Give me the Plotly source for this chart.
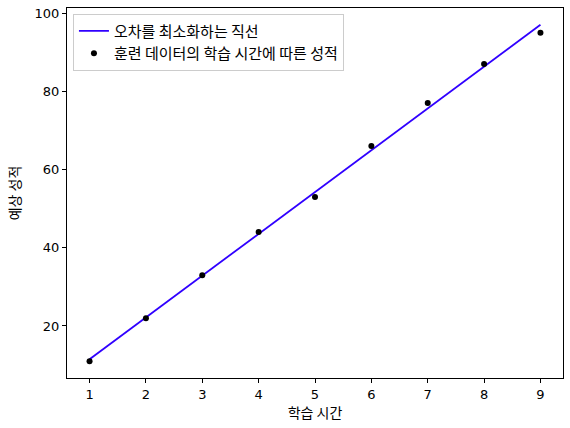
import plotly.graph_objects as go

hours = [1, 2, 3, 4, 5, 6, 7, 8, 9]
scores = [11, 22, 33, 44, 53, 66, 77, 87, 95]
predicted = [11.5, 22.2, 32.9, 43.5, 54.2, 64.9, 75.6, 86.3, 97.0]
x_ticks = [1, 2, 3, 4, 5, 6, 7, 8, 9]
y_ticks = [20, 40, 60, 80, 100]

FONT = "Noto Sans CJK KR, DejaVu Sans, sans-serif"
TICKFONT = "DejaVu Sans, Noto Sans CJK KR, sans-serif"

fig = go.Figure()
fig.add_trace(go.Scatter(
    x=hours, y=predicted, mode="lines", name="오차를 최소화하는 직선",
    line=dict(color="#3000ff", width=1.8),
))
fig.add_trace(go.Scatter(
    x=hours, y=scores, mode="markers", name="훈련 데이터의 학습 시간에 따른 성적",
    marker=dict(color="black", size=6),
))

axis_common = dict(
    showgrid=False, zeroline=False, showline=True, linecolor="black", linewidth=1,
    mirror=True, ticks="outside", ticklen=4, tickcolor="black", automargin=False,
    tickfont=dict(family=TICKFONT, size=13, color="black"),
)

fig.update_layout(
    width=570, height=428,
    margin=dict(l=67, r=7, t=8, b=50, autoexpand=False),
    paper_bgcolor="white", plot_bgcolor="white",
    font=dict(family=FONT, size=13, color="black"),
    xaxis=dict(range=[0.6, 9.4], tickvals=x_ticks, title=dict(text="학습 시간", standoff=6,
               font=dict(family=FONT, size=14)), **axis_common),
    yaxis=dict(range=[6.7, 101.3], tickvals=y_ticks, title=dict(text="예상 성적", standoff=10,
               font=dict(family=FONT, size=14)), **axis_common),
    legend=dict(x=0.012, y=0.985, xanchor="left", yanchor="top",
                bordercolor="#cccccc", borderwidth=1, bgcolor="rgba(255,255,255,0.8)",
                font=dict(family=FONT, size=15), tracegroupgap=0, itemwidth=30),
    showlegend=True,
)

fig.write_html("out.html", config={"displayModeBar": False},
               post_script="document.body.style.margin='0';document.body.style.overflow='hidden';")
